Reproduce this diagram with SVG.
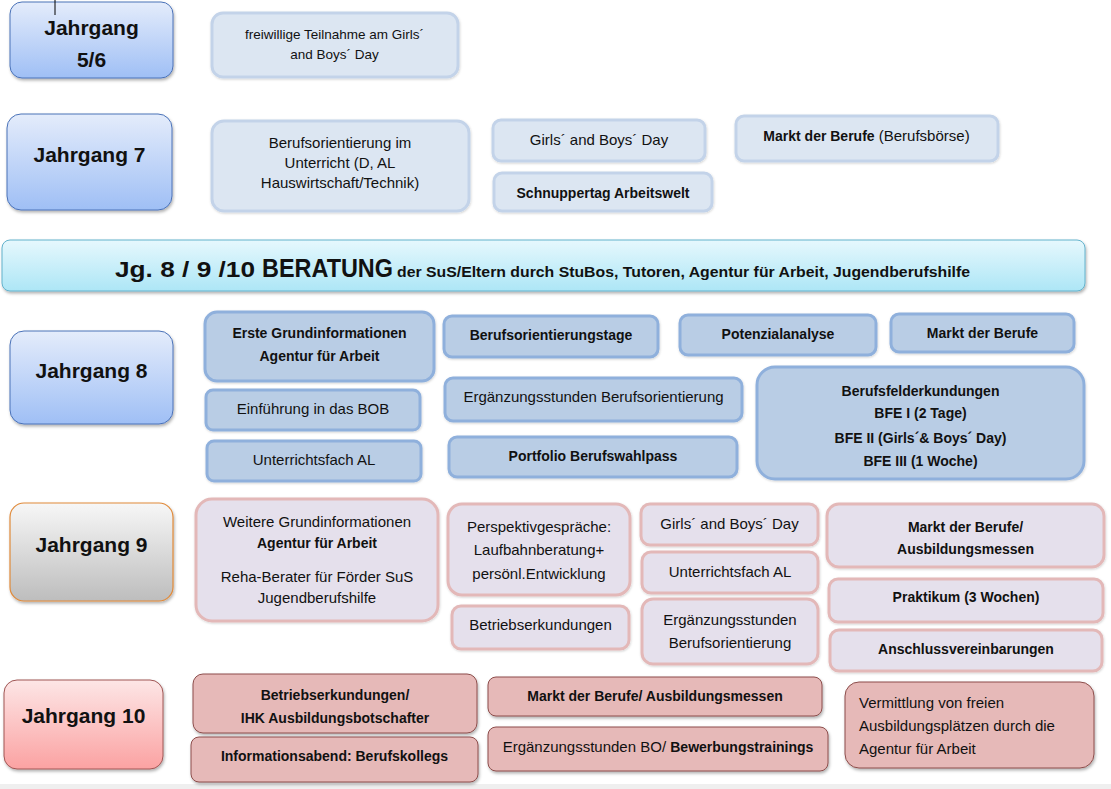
<svg xmlns="http://www.w3.org/2000/svg" width="1111" height="789" viewBox="0 0 1111 789">
<defs>
<linearGradient id="gBlue" x1="0" y1="0" x2="0" y2="1"><stop offset="0" stop-color="#e4ecfb"/><stop offset="1" stop-color="#9fbff5"/></linearGradient>
<linearGradient id="gCyan" x1="0" y1="0" x2="0" y2="1"><stop offset="0" stop-color="#e6f8fd"/><stop offset="1" stop-color="#ade6f6"/></linearGradient>
<linearGradient id="gGrey" x1="0" y1="0" x2="0" y2="1"><stop offset="0" stop-color="#f7f7f7"/><stop offset="1" stop-color="#bdbdbd"/></linearGradient>
<linearGradient id="gPink" x1="0" y1="0" x2="0" y2="1"><stop offset="0" stop-color="#fde6e6"/><stop offset="1" stop-color="#fba2a2"/></linearGradient>
<filter id="sh" x="-10%" y="-10%" width="120%" height="130%"><feDropShadow dx="1" dy="2" stdDeviation="1.5" flood-color="#000" flood-opacity="0.3"/></filter>
<filter id="sh2" x="-10%" y="-10%" width="120%" height="130%"><feDropShadow dx="0.5" dy="1" stdDeviation="1" flood-color="#000" flood-opacity="0.18"/></filter>
</defs>
<style>
text{font-family:"Liberation Sans",Arial,sans-serif;fill:#111;text-anchor:middle}
.hd{font-size:21px;font-weight:bold}
.r{font-size:15px}
.b{font-size:14px;font-weight:bold}
.s{font-size:13.5px}
.bx{fill:#dce6f2;stroke:#c3d3e9;stroke-width:3;filter:url(#sh2)}
.b8{fill:#b9cde5;stroke:#8fb0dc;stroke-width:3;filter:url(#sh2)}
.b9{fill:#e5e0ec;stroke:#e3b8b8;stroke-width:3;filter:url(#sh2)}
.b10{fill:#e6b9b8;stroke:#8c4d4b;stroke-width:1;filter:url(#sh)}
.hb{fill:url(#gBlue);stroke:#4a72b8;stroke-width:1;filter:url(#sh)}
</style>
<rect x="0" y="0" width="1111" height="789" fill="#ffffff"/>
<rect x="0" y="784" width="1111" height="5" fill="#efefef"/>

<g id="jg56"><rect class="hb" x="10" y="2" width="163" height="76" rx="12"/><text class="hd" x="91.5" y="35">Jahrgang</text><text class="hd" x="91.5" y="67">5/6</text></g>
<g id="n56a"><rect class="bx" x="212" y="13" width="246" height="64" rx="11"/><text class="s" x="334.5" y="39">freiwillige Teilnahme am Girls´</text><text class="s" x="334.5" y="59">and Boys´ Day</text></g>

<g id="jg7"><rect class="hb" x="7" y="114" width="165" height="96" rx="14"/><text class="hd" x="89.5" y="162">Jahrgang 7</text></g>
<g id="n7a"><rect class="bx" x="212" y="121" width="257" height="90" rx="12"/><text class="r" x="340" y="148">Berufsorientierung im</text><text class="r" x="340" y="168">Unterricht (D, AL</text><text class="r" x="340" y="188">Hauswirtschaft/Technik)</text></g>
<g id="n7b"><rect class="bx" x="493" y="120" width="212" height="41" rx="8"/><text class="r" x="599" y="145">Girls´ and Boys´ Day</text></g>
<g id="n7c"><rect class="bx" x="494" y="173" width="218" height="38" rx="8"/><text class="b" x="603" y="198">Schnuppertag Arbeitswelt</text></g>
<g id="n7d"><rect class="bx" x="736" y="116" width="262" height="45" rx="8"/><text x="866.5" y="141" class="r"><tspan class="b">Markt der Berufe</tspan> (Berufsbörse)</text></g>

<g id="banner"><rect x="2" y="240" width="1083" height="51" rx="8" fill="url(#gCyan)" stroke="#63b2cc" stroke-width="1" filter="url(#sh)"/>
<text x="115" y="277" style="text-anchor:start"><tspan style="font-size:22px;font-weight:bold" textLength="140" lengthAdjust="spacingAndGlyphs">Jg. 8 / 9 /10</tspan><tspan x="262" style="font-size:25px;font-weight:bold" textLength="131" lengthAdjust="spacingAndGlyphs">BERATUNG</tspan><tspan style="font-size:15px;font-weight:bold" x="397" textLength="573" lengthAdjust="spacingAndGlyphs">der SuS/Eltern durch StuBos, Tutoren, Agentur für Arbeit, Jugendberufshilfe</tspan></text></g>

<g id="jg8"><rect class="hb" x="10" y="331" width="163" height="93" rx="14"/><text class="hd" x="91.5" y="378">Jahrgang 8</text></g>
<g id="n8a"><rect class="b8" x="205" y="312" width="229" height="69" rx="12"/><text class="b" x="319.5" y="338">Erste Grundinformationen</text><text class="b" x="319.5" y="361">Agentur für Arbeit</text></g>
<g id="n8b"><rect class="b8" x="206" y="390" width="214" height="40" rx="7"/><text class="r" x="313" y="414">Einführung in das BOB</text></g>
<g id="n8c"><rect class="b8" x="207" y="441" width="214" height="40" rx="7"/><text class="r" x="314" y="465">Unterrichtsfach AL</text></g>
<g id="n8d"><rect class="b8" x="444" y="316" width="214" height="41" rx="8"/><text class="b" x="551" y="340">Berufsorientierungstage</text></g>
<g id="n8e"><rect class="b8" x="445" y="378" width="297" height="43" rx="8"/><text class="r" x="593.5" y="402">Ergänzungsstunden Berufsorientierung</text></g>
<g id="n8f"><rect class="b8" x="449" y="437" width="288" height="40" rx="8"/><text class="b" x="593" y="461">Portfolio Berufswahlpass</text></g>
<g id="n8g"><rect class="b8" x="680" y="315" width="196" height="40" rx="8"/><text class="b" x="778" y="339">Potenzialanalyse</text></g>
<g id="n8h"><rect class="b8" x="891" y="314" width="183" height="38" rx="8"/><text class="b" x="982.5" y="338">Markt der Berufe</text></g>
<g id="n8i"><rect class="b8" x="757" y="367" width="327" height="112" rx="18"/><text class="b" x="920.5" y="396">Berufsfelderkundungen</text><text class="b" x="920.5" y="418">BFE I (2 Tage)</text><text class="b" x="920.5" y="443">BFE II (Girls´&amp; Boys´ Day)</text><text class="b" x="920.5" y="466">BFE III (1 Woche)</text></g>

<g id="jg9"><rect x="10" y="503" width="163" height="98" rx="14" fill="url(#gGrey)" stroke="#e08a3a" stroke-width="1.2" filter="url(#sh)"/><text class="hd" x="91.5" y="552">Jahrgang 9</text></g>
<g id="n9a"><rect class="b9" x="196" y="499" width="242" height="122" rx="16"/><text class="r" x="317" y="527">Weitere Grundinformationen</text><text class="b" x="317" y="548">Agentur für Arbeit</text><text class="r" x="317" y="582">Reha-Berater für Förder SuS</text><text class="r" x="317" y="603">Jugendberufshilfe</text></g>
<g id="n9b"><rect class="b9" x="448" y="504" width="182" height="91" rx="14"/><text class="r" x="539" y="532">Perspektivgespräche:</text><text class="r" x="539" y="555">Laufbahnberatung+</text><text class="r" x="539" y="579">persönl.Entwicklung</text></g>
<g id="n9c"><rect class="b9" x="452" y="606" width="177" height="43" rx="9"/><text class="r" x="540.5" y="630">Betriebserkundungen</text></g>
<g id="n9d"><rect class="b9" x="641" y="504" width="177" height="41" rx="9"/><text class="r" x="729.5" y="529">Girls´ and Boys´ Day</text></g>
<g id="n9e"><rect class="b9" x="642" y="552" width="176" height="41" rx="9"/><text class="r" x="730" y="577">Unterrichtsfach AL</text></g>
<g id="n9f"><rect class="b9" x="642" y="599" width="176" height="65" rx="11"/><text class="r" x="730" y="625">Ergänzungsstunden</text><text class="r" x="730" y="648">Berufsorientierung</text></g>
<g id="n9g"><rect class="b9" x="827" y="504" width="277" height="63" rx="12"/><text class="b" x="965.5" y="532">Markt der Berufe/</text><text class="b" x="965.5" y="554">Ausbildungsmessen</text></g>
<g id="n9h"><rect class="b9" x="829" y="579" width="274" height="43" rx="9"/><text class="b" x="966" y="602">Praktikum (3 Wochen)</text></g>
<g id="n9i"><rect class="b9" x="830" y="630" width="272" height="41" rx="9"/><text class="b" x="966" y="654">Anschlussvereinbarungen</text></g>

<g id="jg10"><rect x="4" y="680" width="159" height="89" rx="13" fill="url(#gPink)" stroke="#a05654" stroke-width="1" filter="url(#sh)"/><text class="hd" x="83.5" y="723">Jahrgang 10</text></g>
<g id="n10a"><rect class="b10" x="193" y="674" width="284" height="59" rx="10"/><text class="b" x="335" y="700">Betriebserkundungen/</text><text class="b" x="335" y="723">IHK Ausbildungsbotschafter</text></g>
<g id="n10b"><rect class="b10" x="191" y="737" width="287" height="45" rx="8"/><text class="b" x="334.5" y="761">Informationsabend: Berufskollegs</text></g>
<g id="n10c"><rect class="b10" x="488" y="677" width="334" height="39" rx="8"/><text class="b" x="655" y="701">Markt der Berufe/ Ausbildungsmessen</text></g>
<g id="n10d"><rect class="b10" x="488" y="727" width="340" height="44" rx="8"/><text x="658" y="752" class="r">Ergänzungsstunden BO/ <tspan class="b">Bewerbungstrainings</tspan></text></g>
<g id="n10e"><rect class="b10" x="845" y="682" width="249" height="86" rx="14"/><text class="r" x="859" y="708" style="text-anchor:start">Vermittlung von freien</text><text class="r" x="859" y="731" style="text-anchor:start">Ausbildungsplätzen durch die</text><text class="r" x="859" y="754" style="text-anchor:start">Agentur für Arbeit</text></g>

<g id="connectors">
<line x1="55" y1="0" x2="55" y2="15" stroke="#000" stroke-width="1"/>
</g>
</svg>
